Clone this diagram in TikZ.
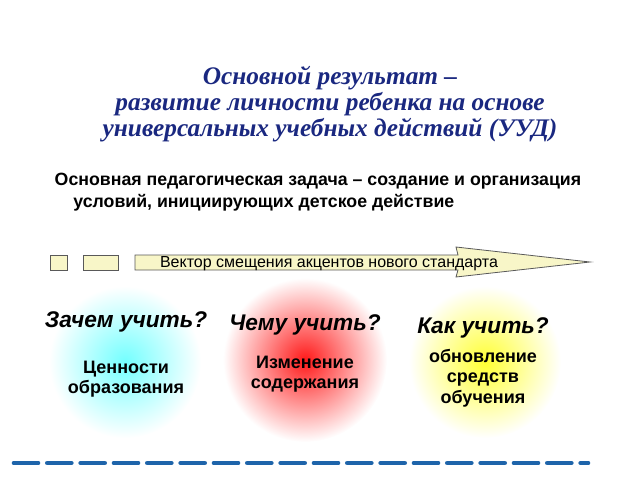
\documentclass[tikz,border=0pt]{standalone}
\usepackage{fontspec}
\setmainfont{Liberation Sans}
\newfontfamily\titlefont{Liberation Serif}
\usetikzlibrary{shadings}
\definecolor{titleblue}{RGB}{26,40,128}
\definecolor{dashblue}{RGB}{30,100,170}
\definecolor{barfill}{RGB}{248,246,200}
\tikzset{
  bar/.style={draw=gray!70!black, fill=barfill, line width=0.6pt},
  question/.style={font=\fontsize{17}{20}\selectfont\bfseries\itshape},
  answer/.style={font=\fontsize{13.5}{15.5}\selectfont\bfseries, align=center}
}
\begin{document}
\begin{tikzpicture}[x=0.75pt,y=0.75pt,yscale=-1,xscale=1]
\useasboundingbox (0,0) rectangle (640,480);

% Title
\node (title) [text=titleblue, align=center, font=\titlefont\fontsize{19}{19.5}\selectfont\bfseries\itshape] at (330,104)
  {Основной результат –\\развитие личности ребенка на основе\\ универсальных учебных действий (УУД)};
\node (task) [anchor=north west, align=left, font=\fontsize{13.3}{17}\selectfont\bfseries] at (50,168)
  {Основная педагогическая задача – создание и организация\\\hspace*{14pt}условий, инициирующих детское действие};

% Vector bar
\draw [bar] (50,255) rectangle (67,270);
\draw [bar] (83,255) rectangle (118,270);
\draw [bar] (135,255) -- (458,255) -- (456,247) -- (590,262) -- (456,277) -- (458,270) -- (135,270) -- cycle;
\node (vector) [font=\fontsize{12}{14}\selectfont] at (329,264) {Вектор смещения акцентов нового стандарта};

% Circles
\shade [inner color=cyan!55, outer color=white] (125,362) circle (76);
\shade [inner color=red!90, outer color=white] (305,360) circle (82);
\shade [inner color=yellow!80, outer color=white] (485,362) circle (76);

\node (why) [question] at (126,322) {Зачем учить?};
\node (what) [question] at (305,325) {Чему учить?};
\node (how) [question] at (483,328) {Как учить?};
\node (values) [answer] at (126,379) {Ценности\\образования};
\node (content) [answer] at (305,374) {Изменение\\содержания};
\node (means) [answer] at (483,378) {обновление\\средств\\обучения};

% Bottom line
\draw [dashblue, line width=3.5pt, line cap=round, dash pattern=on 18pt off 7pt] (14,463) -- (588,463);
\end{tikzpicture}
\end{document}
